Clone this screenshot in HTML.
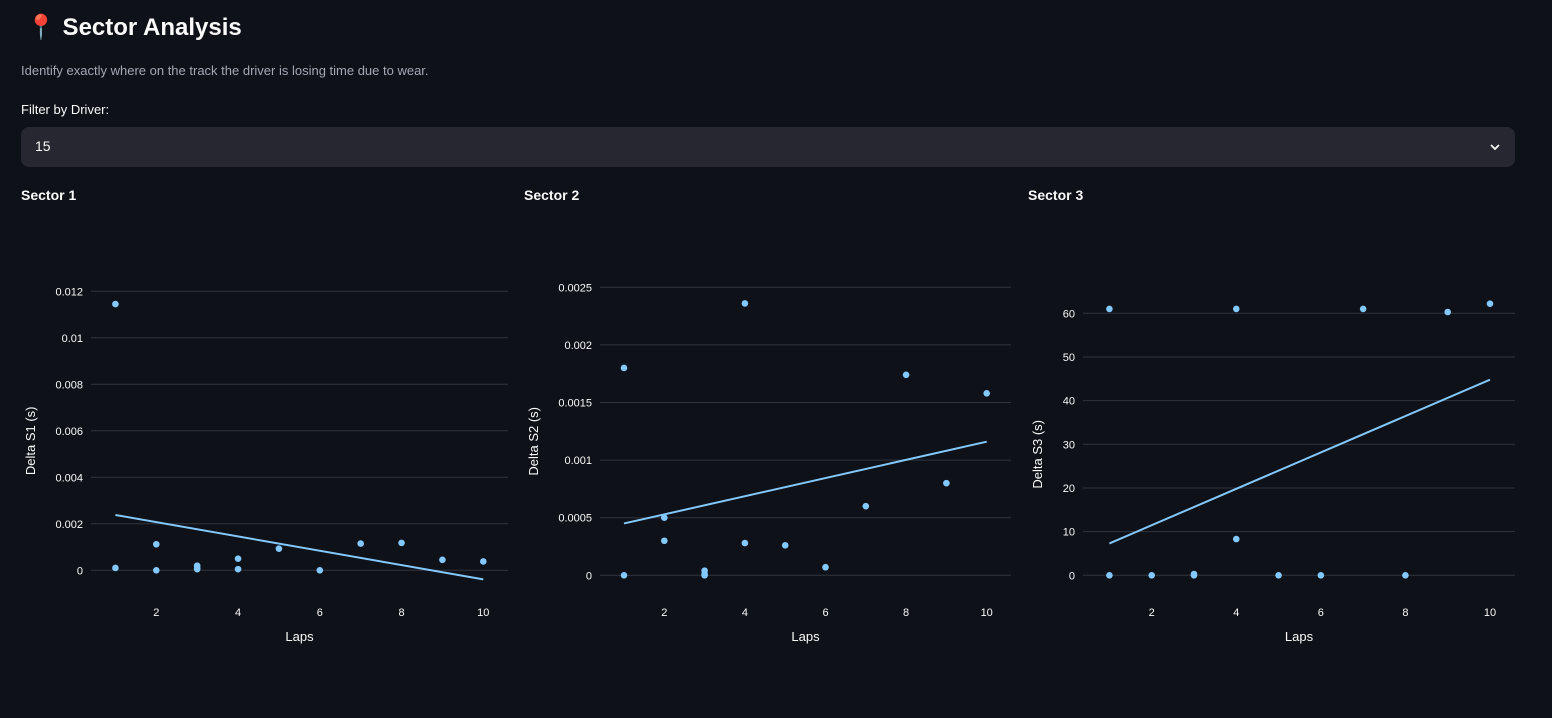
<!DOCTYPE html>
<html><head><meta charset="utf-8">
<style>
body{margin:0;width:1552px;height:718px;background:#0e1117;font-family:"Liberation Sans",sans-serif;color:#fafafa;overflow:hidden;position:relative}
.abs{position:absolute}
h1{position:absolute;left:26px;top:13px;margin:0;font-size:24px;font-weight:700;white-space:nowrap}
</style></head><body>
<h1><span style="color:#e8365d">📍</span> Sector Analysis</h1>
<div class="abs" style="left:21px;top:63px;font-size:13px;color:#a3a8b4">Identify exactly where on the track the driver is losing time due to wear.</div>
<div class="abs" style="left:21px;top:102px;font-size:13px">Filter by Driver:</div>
<div class="abs" style="left:21px;top:127px;width:1494px;height:40px;background:#262730;border-radius:8px">
<span class="abs" style="left:14px;top:11px;font-size:14px">15</span>
<svg class="abs" style="right:14px;top:14px" width="12" height="12" viewBox="0 0 12 12"><path d="M2 4 L6 8 L10 4" stroke="#fafafa" stroke-width="1.8" fill="none"/></svg>
</div>
<div class="abs" style="left:21px;top:187px;font-size:14px;font-weight:700">Sector 1</div>
<div class="abs" style="left:524px;top:187px;font-size:14px;font-weight:700">Sector 2</div>
<div class="abs" style="left:1028px;top:187px;font-size:14px;font-weight:700">Sector 3</div>
<svg id="svg" class="abs" style="left:0;top:0" width="1552" height="718"></svg>
<script>
const xTicks=[2,4,6,8,10];
const s1Laps=[1,1,2,2,3,3,3,4,4,5,6,7,8,9,10];
const s1Vals=[0.01145,0.0001,0.00112,0,0.0002,0.0001,0.00005,0.0005,0.00005,0.00093,0,0.00115,0.00118,0.00045,0.00038];
const s1Trend=[0.00238,-0.00039];
const s1Ticks=[0,0.002,0.004,0.006,0.008,0.01,0.012];
const s1Labels=["0","0.002","0.004","0.006","0.008","0.01","0.012"];
const s2Laps=[1,1,2,2,3,3,3,4,4,5,6,7,8,9,10];
const s2Vals=[0.0018,0,0.0005,0.0003,0.00004,0.00001,0,0.00236,0.00028,0.00026,0.00007,0.0006,0.00174,0.0008,0.00158];
const s2Trend=[0.00045,0.00116];
const s2Ticks=[0,0.0005,0.001,0.0015,0.002,0.0025];
const s2Labels=["0","0.0005","0.001","0.0015","0.002","0.0025"];
const s3Laps=[1,1,2,3,3,4,4,5,6,7,8,9,10];
const s3Vals=[61,0,0,0.3,0,61,8.3,0,0,61,0,60.3,62.2];
const s3Trend=[7.3,44.8];
const s3Ticks=[0,10,20,30,40,50,60];
const s3Labels=["0","10","20","30","40","50","60"];
const svg=document.getElementById('svg');
const NS='http://www.w3.org/2000/svg';
function mk(t,a){const e=document.createElementNS(NS,t);for(const k in a)e.setAttribute(k,a[k]);svg.appendChild(e);return e;}
function chart(id,cfg,laps,vals,trend,ticks,labels,title){
  const xs=l=>cfg.x2+(l-2)*(cfg.x10-cfg.x2)/8;
  const ys=v=>cfg.y0+(v-0)*(cfg.yT-cfg.y0)/ticks[ticks.length-1];
  ticks.forEach((t,i)=>{
    const g=mk('line',{x1:cfg.gl,x2:cfg.gr,y1:ys(t),y2:ys(t),stroke:'#31333f','stroke-width':1});
    
    
    const tx=mk('text',{x:cfg.gl-8,y:ys(t)+4,'text-anchor':'end','font-size':11,fill:'#fafafa'});
    tx.textContent=labels[i];
    
    
  });
  xTicks.forEach(t=>{
    const tx=mk('text',{x:xs(t),y:616,'text-anchor':'middle','font-size':11,fill:'#fafafa'});
    tx.textContent=t;
    
    
  });
  const xt=mk('text',{x:(cfg.gl+cfg.gr)/2,y:641,'text-anchor':'middle','font-size':13,fill:'#fafafa'});
  xt.textContent='Laps';
  
  
  const yc=(cfg.y0+cfg.yT)/2+10;
  const yt=mk('text',{x:cfg.yx,y:yc,'text-anchor':'middle','font-size':13,fill:'#fafafa',transform:`rotate(-90 ${cfg.yx} ${yc})`});
  yt.textContent=title;
  
  
  const tl=mk('line',{x1:xs(1),y1:ys(trend[0]),x2:xs(10),y2:ys(trend[1]),stroke:'#83c9ff','stroke-width':2});
  
  
  laps.forEach((l,i)=>{
    const c=mk('circle',{cx:xs(l),cy:ys(vals[i]),r:3.3,fill:'#83c9ff'});
    
    
  });
}
chart('sector1',{x2:156.3,x10:483.3,y0:570.3,yT:291.3,gl:91,gr:508,yx:35},s1Laps,s1Vals,s1Trend,s1Ticks,s1Labels,'Delta S1 (s)');
chart('sector2',{x2:664.3,x10:986.7,y0:575.3,yT:287.3,gl:600,gr:1011,yx:538},s2Laps,s2Vals,s2Trend,s2Ticks,s2Labels,'Delta S2 (s)');
chart('sector3',{x2:1151.7,x10:1490,y0:575.3,yT:313.3,gl:1083,gr:1515,yx:1042},s3Laps,s3Vals,s3Trend,s3Ticks,s3Labels,'Delta S3 (s)');
</script>
</body></html>
